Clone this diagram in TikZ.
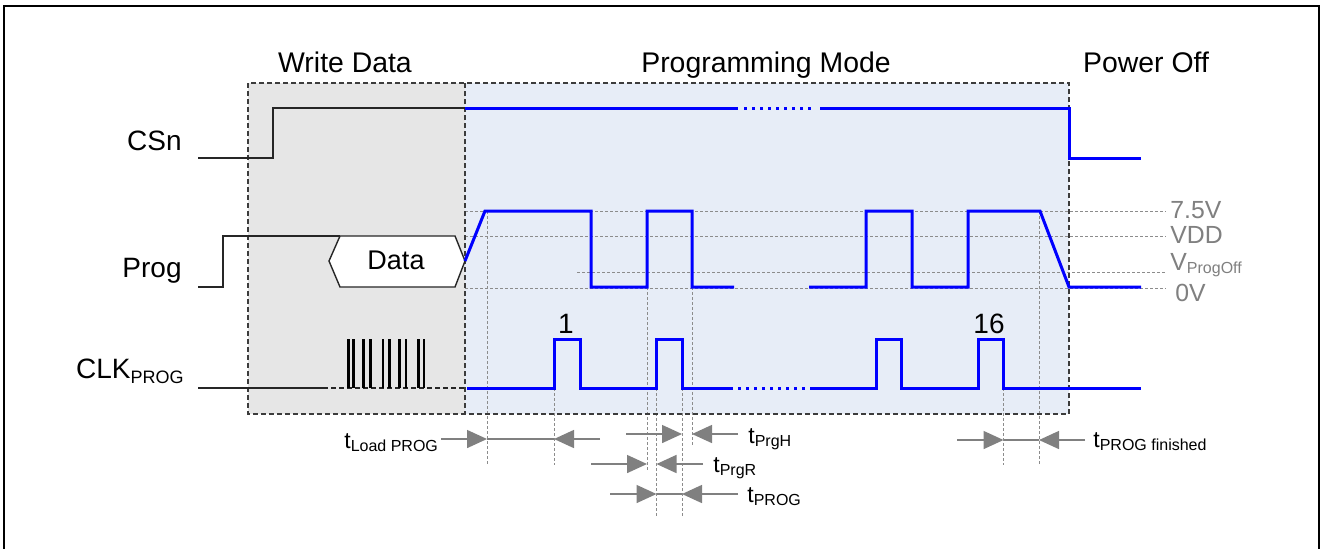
\documentclass[tikz,border=0pt]{standalone}
\usepackage{fontspec}
\setmainfont{Liberation Sans}
\usetikzlibrary{arrows.meta}
\definecolor{wgray}{RGB}{230,230,230}
\definecolor{pblue}{RGB}{231,237,247}
\definecolor{refgray}{RGB}{140,140,140}
\definecolor{arrgray}{RGB}{128,128,128}
\definecolor{lvlgray}{RGB}{128,128,128}
\definecolor{boxgray}{RGB}{60,60,60}
\newcommand{\tsub}[1]{\raisebox{-1.8pt}{\fontsize{8}{9}\selectfont #1}}
\begin{document}
\begin{tikzpicture}[x=0.5pt,y=-0.5pt,
  sig/.style={line width=0.7pt, black!85},
  bsig/.style={line width=1.5pt, blue, line join=miter},
  bdots/.style={line width=1.5pt, blue, dash pattern=on 1.5pt off 2.5pt},
  region/.style={boxgray, line width=0.65pt, dash pattern=on 2.5pt off 1.5pt},
  ref/.style={refgray, line width=0.5pt, dash pattern=on 1.5pt off 1pt},
  tarr/.style={arrgray, line width=0.75pt, -{Triangle[length=10pt,width=9pt]}},
  tline/.style={arrgray, line width=0.75pt},
  title/.style={font=\fontsize{14.2}{17}\selectfont, inner sep=0, anchor=base},
  siglabel/.style={font=\fontsize{14}{17}\selectfont, inner sep=0, anchor=base east},
  lvl/.style={font=\fontsize{12.4}{15}\selectfont, text=lvlgray, inner sep=0, anchor=base west},
  tlabel/.style={font=\fontsize{11.5}{14}\selectfont, inner sep=0, anchor=base west},
  num/.style={font=\fontsize{14}{17}\selectfont, inner sep=0, anchor=base},
  burst/.style={black, line width=1.3pt},
]
\useasboundingbox (0,0) rectangle (1325,548);
\clip (0,0) rectangle (1325,548);
\fill[white] (0,0) rectangle (1325,548);
% phase regions
\fill[wgray] (248,83) rectangle (465,414);
\fill[pblue] (465,83) rectangle (1069,414);
% level reference lines
\draw[ref] (465,211) -- (1166,211);
\draw[ref] (465,236) -- (1166,236);
\draw[ref] (577,272) -- (1166,272);
\draw[ref] (465,288) -- (1166,288);
% vertical timing references
\draw[ref] (487,211) -- (487,465);
\draw[ref] (554,388) -- (554,465);
\draw[ref] (647,287) -- (647,470);
\draw[ref] (656.5,388) -- (656.5,518);
\draw[ref] (682,388) -- (682,518);
\draw[ref] (692,287) -- (692,445);
\draw[ref] (1003.5,388) -- (1003.5,465);
\draw[ref] (1039,211) -- (1039,465);
% region borders
\draw[region] (248,83) rectangle (1069,414);
\draw[region] (465,83) -- (465,414);
% outer frame
\draw[black, line width=1pt] (4,6) rectangle (1319,600);
% titles
\node[title] (twrite) at (345,72) {Write Data};
\node[title] (tprog) at (766,72) {Programming Mode};
\node[title] (toff) at (1146,72) {Power Off};
% signal labels
\node[siglabel] (lcsn) at (182,150) {CSn};
\node[siglabel] (lprog) at (182,277) {Prog};
\node[siglabel] (lclk) at (184,378) {CLK\raisebox{-2.8pt}{\fontsize{9}{10}\selectfont PROG}};
% CSn
\draw[sig] (198,158) -- (273,158) -- (273,108) -- (465,108);
\draw[bsig] (465,108) -- (738,108);
\draw[bdots] (744,108) -- (814,108);
\draw[bsig] (820,108) -- (1069,108) -- (1069,158) -- (1141,158);
% Prog
\draw[sig] (198,287) -- (223,287) -- (223,236) -- (340,236);
\draw[sig, fill=white] (329,261) -- (340,236) -- (455,236) -- (465,261) -- (455,287) -- (340,287) -- cycle;
\node[font=\fontsize{13.5}{16}\selectfont, inner sep=0, anchor=base] (data) at (396,269) {Data};
\draw[bsig] (465,261) -- (485,211) -- (591,211) -- (591,287) -- (647,287) -- (647,211) -- (692,211) -- (692,287) -- (734,287);
\draw[bsig] (809,287) -- (866,287) -- (866,211) -- (912,211) -- (912,287) -- (968,287) -- (968,211) -- (1040,211) -- (1069,287) -- (1141,287);
% level labels
\node[lvl] (l75) at (1170,218) {7.5V};
\node[lvl] (lvdd) at (1170,243) {VDD};
\node[lvl] (lvoff) at (1170,270.5) {V\raisebox{-1.5pt}{\fontsize{8}{9}\selectfont ProgOff}};
\node[lvl] (l0v) at (1175,301.5) {0V};
% CLK
\draw[sig] (198,388) -- (323,388);
\draw[sig, dash pattern=on 2.5pt off 1.5pt] (323,388) -- (465,388);
\foreach \bx in {348.5,353.5,363.3,370.2,382.8,389.3,399.7,406,418.3,424}
  \draw[burst] (\bx,388) -- (\bx,339);
\draw[bsig] (467,388) -- (554,388) -- (554,339) -- (580,339) -- (580,388) -- (656.5,388) -- (656.5,339) -- (682,339) -- (682,388) -- (733,388);
\draw[bdots] (738,388) -- (806,388);
\draw[bsig] (810,388) -- (876,388) -- (876,339) -- (901,339) -- (901,388) -- (978,388) -- (978,339) -- (1003.5,339) -- (1003.5,388) -- (1141,388);
\node[num] (n1) at (566,333) {1};
\node[num] (n16) at (989,333) {16};
% timing arrows
\node[tlabel] (tload) at (344,448) {t\tsub{Load PROG}};
\draw[tarr] (441,439) -- (487,439);
\draw[tline] (487,439) -- (554,439);
\draw[tarr] (600,439) -- (554,439);
\node[tlabel] (tprgh) at (748,443) {t\tsub{PrgH}};
\draw[tarr] (626,434) -- (682,434);
\draw[tarr] (738,434) -- (692,434);
\node[tlabel] (tprgr) at (713,472) {t\tsub{PrgR}};
\draw[tarr] (591,464) -- (647,464);
\draw[tarr] (703,464) -- (656.5,464);
\node[tlabel] (tprog2) at (747,502) {t\tsub{PROG}};
\draw[tarr] (610,494) -- (656.5,494);
\draw[tline] (656.5,494) -- (682,494);
\draw[tarr] (738,494) -- (682,494);
\node[tlabel] (tfin) at (1093,447) {t\tsub{PROG finished}};
\draw[tarr] (957,440) -- (1003.5,440);
\draw[tline] (1003.5,440) -- (1039,440);
\draw[tarr] (1085,440) -- (1039,440);
\end{tikzpicture}
\end{document}
